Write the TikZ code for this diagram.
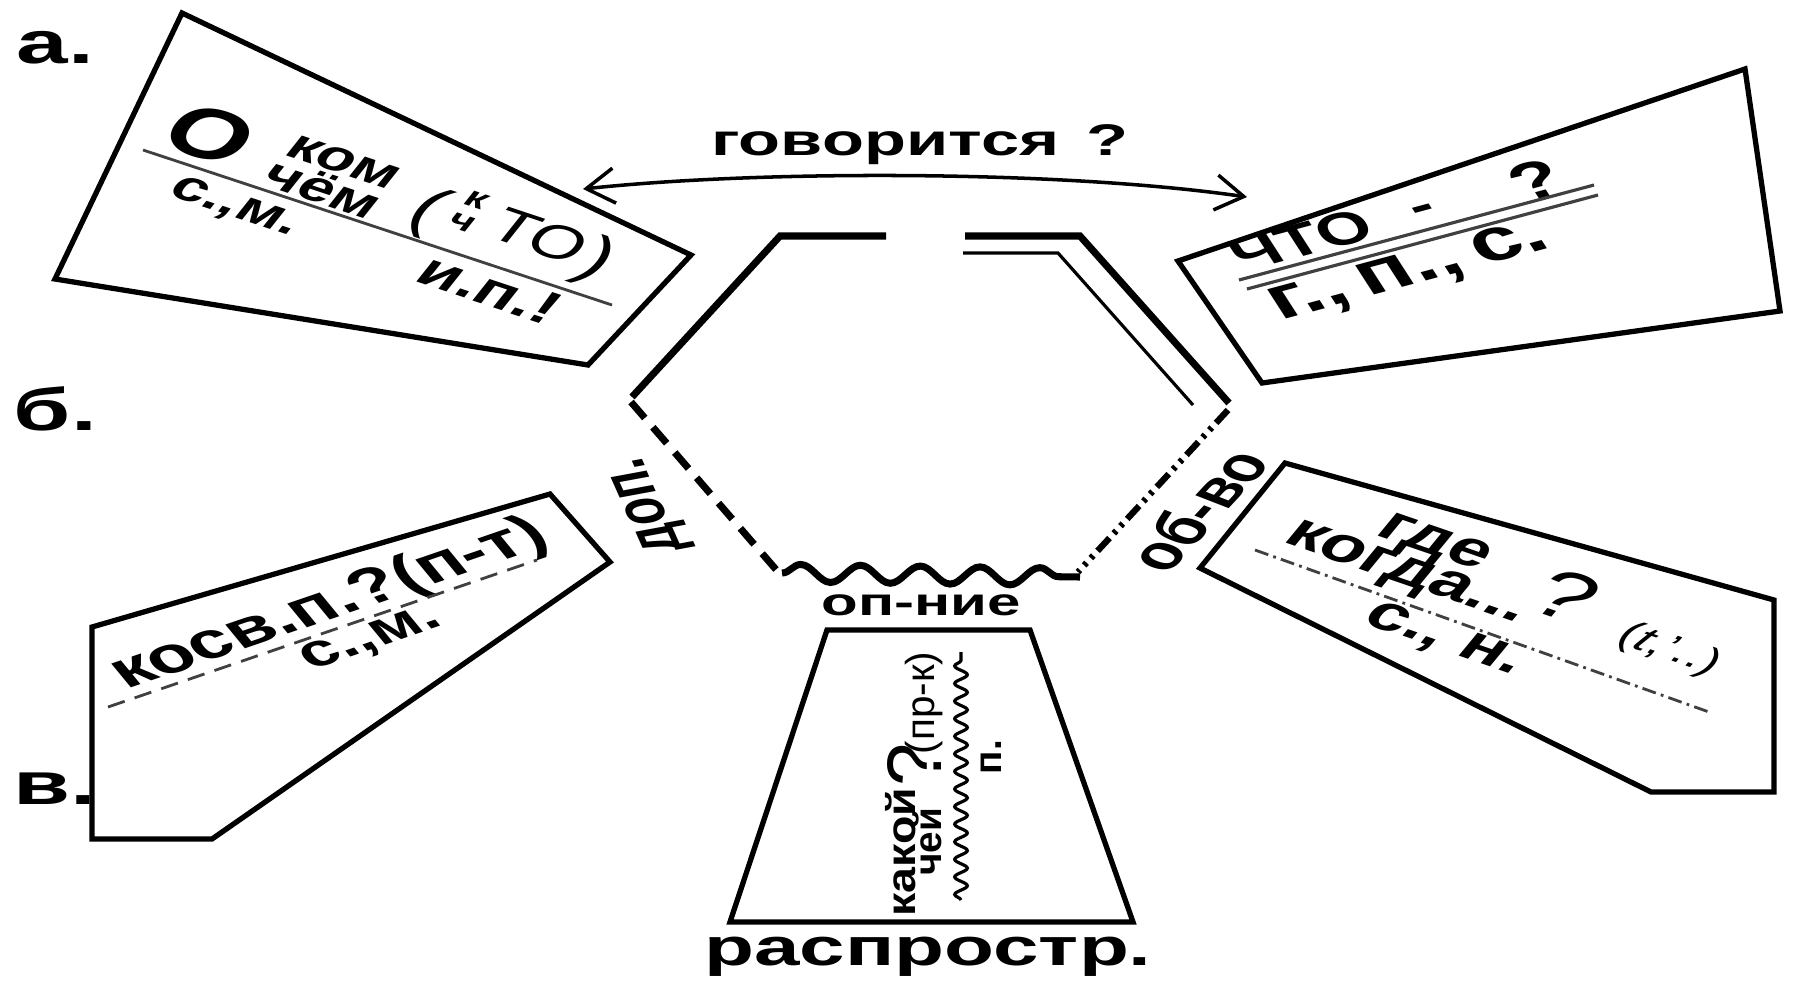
\documentclass[tikz,border=0pt]{standalone}
\usepackage{fontspec}
\setmainfont{Liberation Sans}
\usepackage{graphicx}
\usetikzlibrary{arrows.meta,decorations.pathmorphing}
\newcommand\SX{1.55}
\newcommand\ST[2]{\scalebox{\SX}[1]{\rotatebox{#1}{#2}}}
\newcommand\fs[1]{\fontsize{#1}{#1}\selectfont}
\begin{document}
\begin{tikzpicture}[x=0.01cm,y=-0.01cm,
  txt/.style={inner sep=0pt, outer sep=0pt},
  boxline/.style={line width=1.5pt, line join=miter},
  hexline/.style={line width=2pt, line join=miter},
  innerline/.style={line width=0.9pt, line join=miter},
  rulel/.style={line width=0.8pt, draw=black!75},
  barb/.style={line width=1pt, {Straight Barb[length=8pt,width=10pt]}-{Straight Barb[length=8pt,width=10pt]}}]
\useasboundingbox (0,0) rectangle (1794,987);
\fill[white] (0,0) rectangle (1794,987);

% side letters
\node[txt, anchor=base west] (la) at (17,63) {\scalebox{\SX}[1]{\fs{17}\bfseries а.}};
\node[txt, anchor=base west] (lb) at (14,430) {\scalebox{\SX}[1]{\fs{17}\bfseries б.}};
\node[txt, anchor=base west] (lv) at (14,804) {\scalebox{\SX}[1]{\fs{17}\bfseries в.}};

% question on top
\node[txt, anchor=base] (q) at (920,155) {\scalebox{\SX}[1]{\fs{12.6}\bfseries говорится\hskip0.4em ?}};
\coordinate (arrL) at (583,189);
\coordinate (arrR) at (1247,197);
\draw[barb] (arrL) .. controls (760,170) and (1060,170) .. (arrR);

% boxes
\draw[boxline] (182,13) -- (691,255) -- (588,365) -- (55,279) -- cycle;
\draw[boxline] (1178,261) -- (1745,69) -- (1780,311) -- (1262,383) -- cycle;
\draw[boxline] (92,627) -- (550,494) -- (610,562) -- (212,839) -- (92,839) -- cycle;
\draw[boxline] (1285,463) -- (1774,600) -- (1774,792) -- (1651,792) -- (1200,568) -- cycle;
\draw[boxline] (827,630) -- (1030,630) -- (1133,922) -- (730,922) -- cycle;

% central figure
\draw[hexline] (632,397) -- (780,236) -- (886,236);
\draw[hexline] (965,236) -- (1080,236) -- (1229,403);
\draw[innerline] (963,253) -- (1058,253) -- (1193,405);
\draw[hexline, dash pattern=on 6pt off 3.5pt] (631,402) -- (779,573);
\draw[hexline, decorate, decoration={snake, amplitude=2.5pt, segment length=17pt}] (782,573) -- (1080,577);
\draw[line width=1.8pt, dash pattern=on 5pt off 1.8pt on 1pt off 1.8pt on 1pt off 1.8pt] (1228,410) -- (1078,572);

\node[txt] (dop) at (650,505) {\ST{106}{\fs{13}\bfseries доп.}};
\node[txt] (obvo) at (1197,510) {\ST{59}{\fs{13.5}\bfseries об-во}};
\node[txt, anchor=base] (opn) at (921,615) {\scalebox{\SX}[1]{\fs{11}\bfseries оп-ние}};
\node[txt, anchor=base] (rasp) at (928,965) {\scalebox{\SX}[1]{\fs{15}\bfseries распростр.}};

% box A text
\node[txt] (aO) at (210,134) {\ST{-27.2}{\fs{20}\bfseries О}};
\node[txt] (akom) at (343,162) {\ST{-27.2}{\fs{12}\bfseries ком}};
\node[txt] (achem) at (323,189) {\ST{-27.2}{\fs{12}\bfseries чём}};
\node[txt] (apl) at (427,212) {\ST{-27.2}{\fs{16}(}};
\node[txt] (ak) at (476,200) {\ST{-27.2}{\fs{8}\bfseries к}};
\node[txt] (ach) at (462,223) {\ST{-27.2}{\fs{8}\bfseries ч}};
\node[txt] (aTO) at (540,236) {\ST{-27.2}{\fs{13.4}ТО}};
\node[txt] (apr) at (596,262) {\ST{-27.2}{\fs{16})}};
\coordinate (aL1) at (143,150);
\coordinate (aL2) at (612,305);
\draw[rulel] (aL1) -- (aL2);
\node[txt] (asm) at (234,208) {\ST{-27.2}{\fs{12}\bfseries с.,м.}};
\node[txt] (aip) at (490,289) {\ST{-27.2}{\fs{13}\bfseries и.п.!}};

% box B text
\node[txt] (bCTO) at (1301,240) {\ST{22.6}{\fs{13}\bfseries ЧТО}};
\node[txt] (bdash) at (1425,213) {\ST{22.6}{\fs{13}\bfseries -}};
\node[txt] (bq) at (1536,180) {\ST{22.6}{\fs{15}\bfseries ?}};
\coordinate (bL1a) at (1239,280);
\coordinate (bL1b) at (1594,185);
\coordinate (bL2a) at (1247,289);
\coordinate (bL2b) at (1598,195);
\draw[rulel, line width=0.9pt] (bL1a) -- (bL1b);
\draw[rulel, line width=0.9pt] (bL2a) -- (bL2b);
\node[txt] (bgps) at (1410,273) {\ST{22.6}{\fs{17}\bfseries г.,\,п.,\,с.}};

% box C text
\node[txt] (ckosv) at (330,605) {\ST{28}{\fs{14.5}\bfseries косв.п.?(п-т)}};
\coordinate (cL1) at (108,707);
\coordinate (cL2) at (537,560);
\draw[rulel, dash pattern=on 5pt off 3pt] (cL1) -- (cL2);
\node[txt] (csm) at (372,640) {\ST{28}{\fs{13}\bfseries с.,м.}};

% box D text
\node[txt] (dgde) at (1432,545) {\ST{-28}{\fs{14}\bfseries где}};
\node[txt] (dkogda) at (1405,575) {\ST{-28}{\fs{14}\bfseries когда...}};
\node[txt] (dq) at (1566,596) {\ST{-28}{\fs{19}?}};
\node[txt] (dt) at (1669,650) {\ST{-28}{\fs{10}(\textit{t},'..)}};
\coordinate (dL1) at (1255,550);
\coordinate (dL2) at (1709,712);
\draw[rulel, dash pattern=on 4pt off 1.5pt on 0.8pt off 1.5pt] (dL1) -- (dL2);
\node[txt] (dsn) at (1444,640) {\ST{-28}{\fs{14}\bfseries с., н.}};

% trapezoid text
\node[txt] (tkak) at (901,852) {\scalebox{1}[1.15]{\rotatebox{90}{\fs{11.5}\bfseries какой}}};
\node[txt] (tchey) at (927,842) {\rotatebox{90}{\fs{11}\bfseries чей}};
\node[txt] (tq) at (914,765) {\rotatebox{90}{\fs{22}?}};
\node[txt] (tprk) at (924,703) {\rotatebox{90}{\fs{11.5}(пр-к)}};
\coordinate (tw1) at (961,900);
\coordinate (tw2) at (961,652);
\draw[line width=0.9pt, decorate, decoration={snake, amplitude=1.8pt, segment length=5pt}] (tw1) -- (tw2);
\node[txt] (tp) at (991,757) {\rotatebox{90}{\fs{11}\bfseries п.}};
\end{tikzpicture}
\end{document}
